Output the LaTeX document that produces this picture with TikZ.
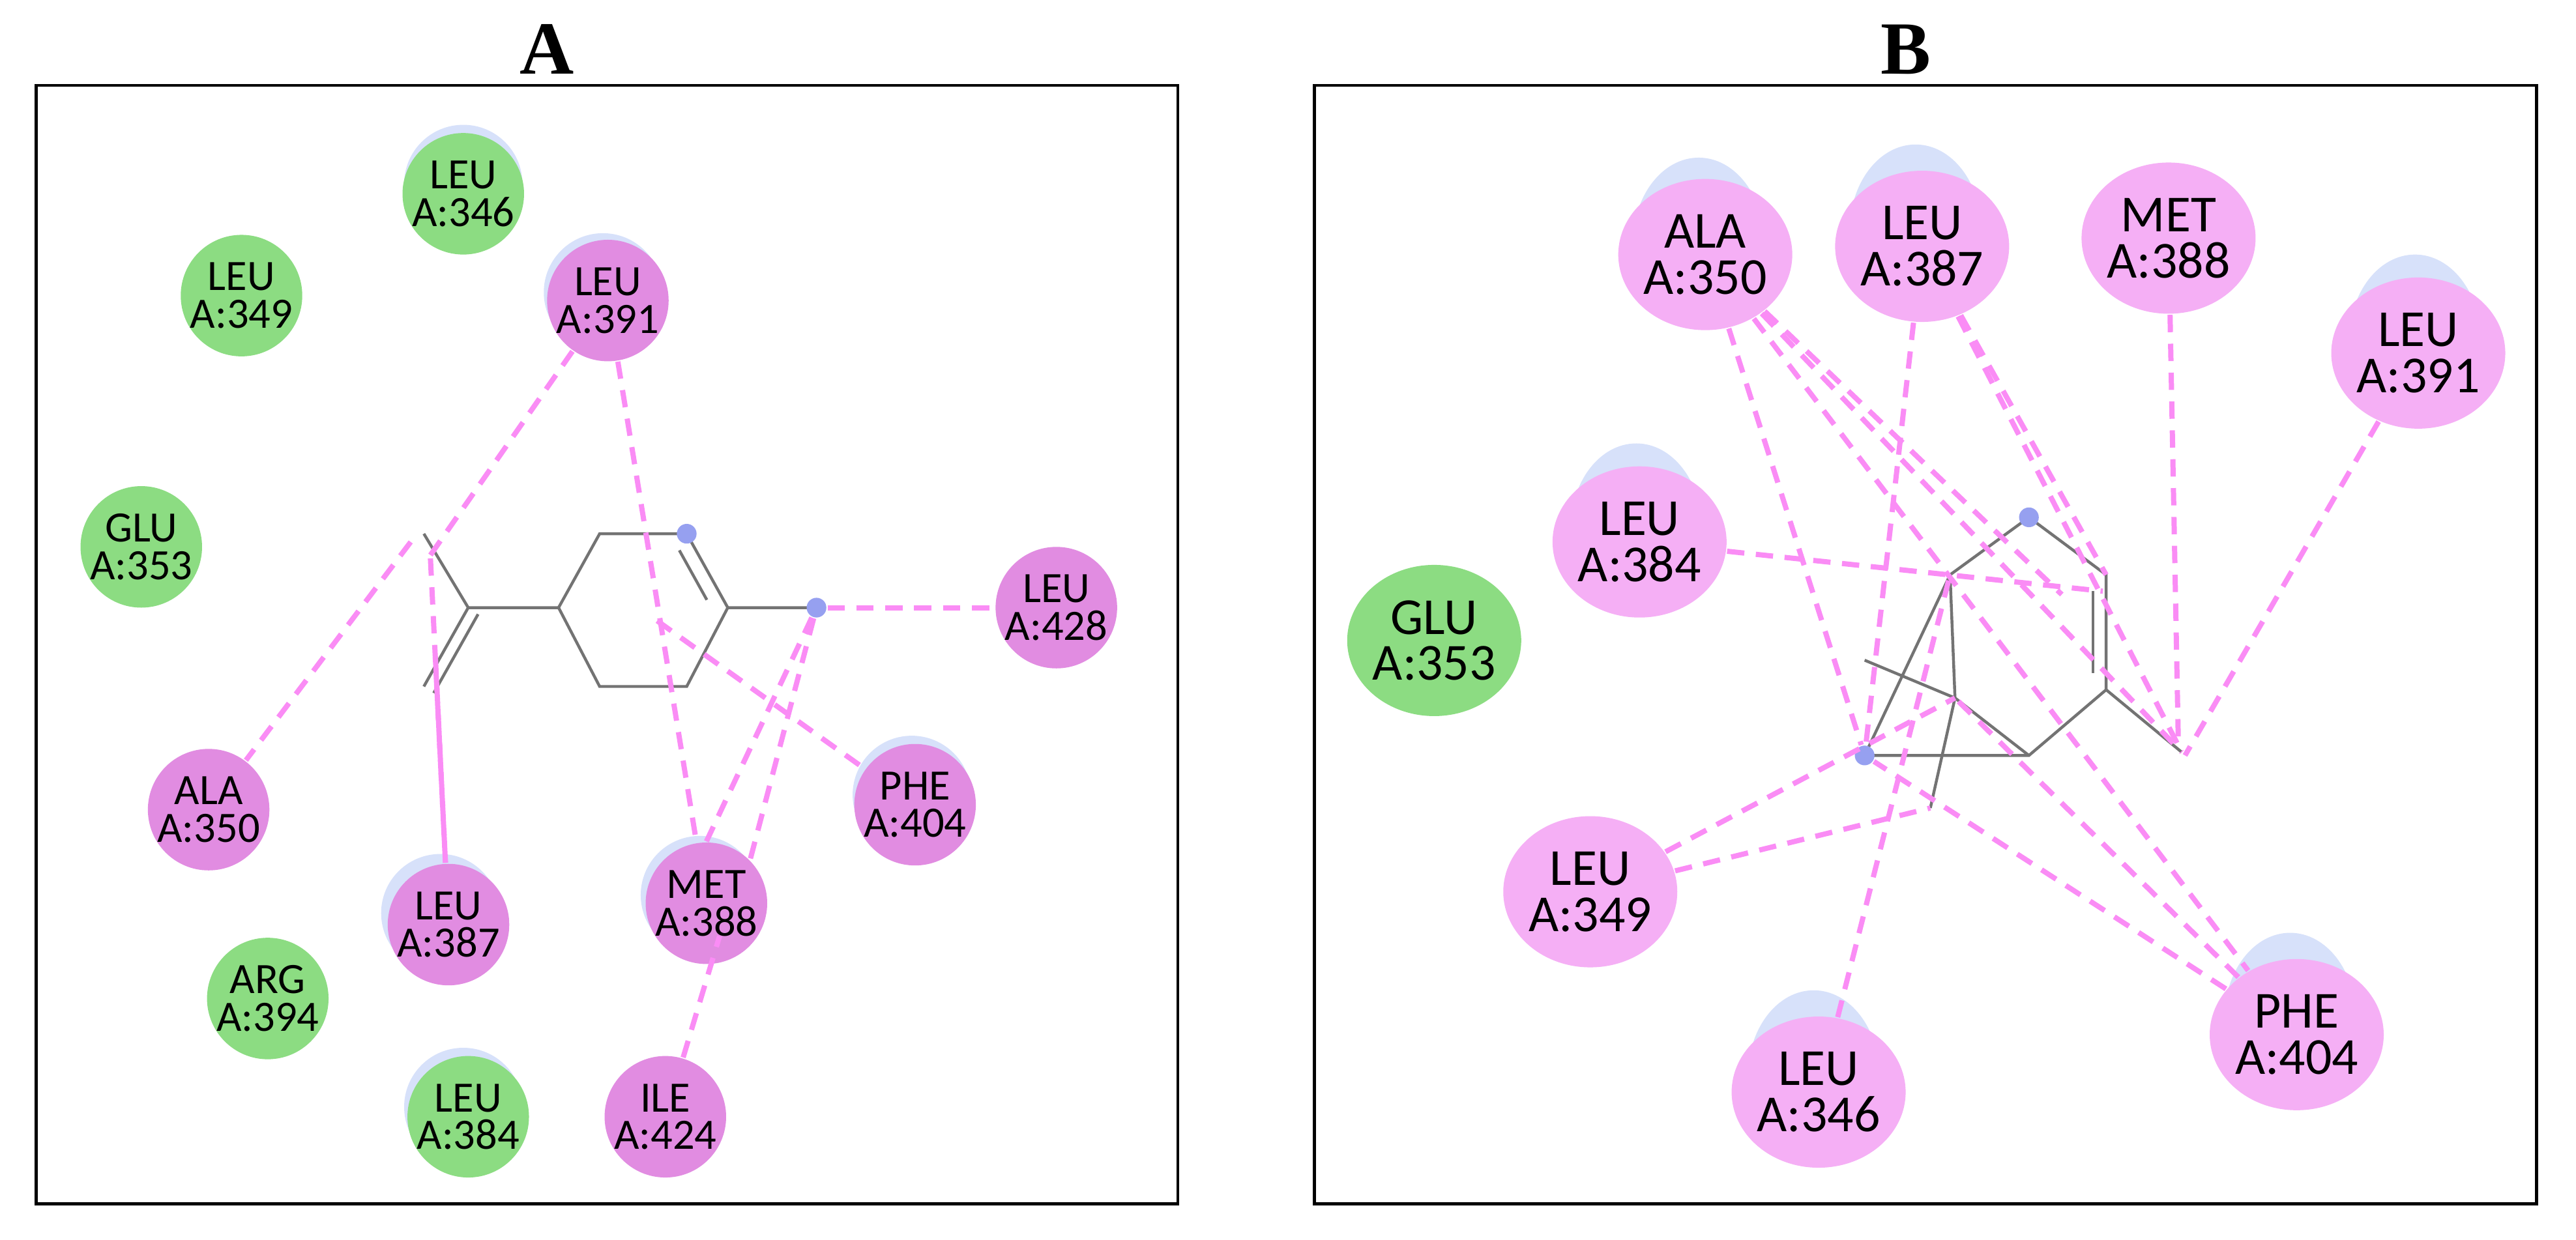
\documentclass[tikz,border=0pt]{standalone}
\usepackage{fontspec}
\setmainfont{Liberation Serif}
\newfontfamily\resfont{Carlito}
\usetikzlibrary{shapes.geometric,calc}
\definecolor{resgreen}{RGB}{140,220,130}
\definecolor{respink}{RGB}{225,140,225}
\definecolor{respinkB}{RGB}{245,175,245}
\definecolor{halo}{RGB}{215,225,250}
\definecolor{dashpink}{RGB}{250,140,245}
\definecolor{atomblue}{RGB}{150,160,240}
\tikzset{
  resA/.style={circle,minimum size=0.66cm,inner sep=0pt,align=center,font=\resfont\fontsize{7.5}{6.5}\selectfont},
  resB/.style={ellipse,minimum width=0.72cm,minimum height=0.92cm,inner sep=0pt,align=center,font=\resfont\fontsize{9}{8}\selectfont},
  hydro/.style={fill=resgreen},
  pinkA/.style={fill=respink},
  pinkB/.style={fill=respinkB},
  bond/.style={draw=gray!90!black,line width=0.5pt},
  contact/.style={draw=dashpink,line width=0.9pt,dash pattern=on 3pt off 2pt},
  atomdot/.style={circle,fill=atomblue,inner sep=0pt,minimum size=0.12cm},
  panelbox/.style={draw=black,line width=0.5pt}
}
\begin{document}
\begin{tikzpicture}[x=0.01cm,y=-0.01cm]
\useasboundingbox (0,0) rectangle (1568,755);
% panels
\draw[panelbox] (22,52) rectangle (717,733);
\draw[panelbox] (800,52) rectangle (1544,733);
\node[font=\bfseries\fontsize{13}{13}\selectfont] (titleA) at (333,30) {A};
\node[font=\bfseries\fontsize{13}{13}\selectfont] (titleB) at (1160,30) {B};
% ---- panel A : ligand
\coordinate (a1) at (365,325); \coordinate (a2) at (418,325);
\coordinate (a3) at (443,370); \coordinate (a4) at (418,418);
\coordinate (a5) at (365,418); \coordinate (a6) at (340,370);
\coordinate (a7) at (497,370); \coordinate (a8) at (285,370);
\coordinate (a9) at (258,325); \coordinate (a10) at (258,418);
\draw[bond] (a1) -- (a2) -- (a3) -- (a4) -- (a5) -- (a6) -- cycle;
\draw[bond] ($(a2)!0.18!(a3)+(-9,2)$) -- ($(a2)!0.85!(a3)+(-9,2)$);
\draw[bond] (a3) -- (a7) (a6) -- (a8) -- (a9) (a8) -- (a10);
\draw[bond] ($(a8)+(6,4)$) -- ($(a10)+(6,4)$);
\node[atomdot] (dA1) at (a2) {};
\node[atomdot] (dA2) at (a7) {};
% ---- panel A : residues
\foreach \p in {(282,112),(367,178),(268,556),(426,545),(555,484),(282,674)}
  \fill[halo] \p circle (36);
\node[resA,hydro] (A346) at (282,118) {LEU\\A:346};
\node[resA,hydro] (A349) at (147,180) {LEU\\A:349};
\node[resA,pinkA] (A391) at (370,183) {LEU\\A:391};
\node[resA,hydro] (A353) at (86,333) {GLU\\A:353};
\node[resA,pinkA] (A428) at (643,370) {LEU\\A:428};
\node[resA,pinkA] (A350) at (127,493) {ALA\\A:350};
\node[resA,pinkA] (A404) at (557,490) {PHE\\A:404};
\node[resA,pinkA] (A387) at (273,563) {LEU\\A:387};
\node[resA,pinkA] (A388) at (430,550) {MET\\A:388};
\node[resA,hydro] (A394) at (163,608) {ARG\\A:394};
\node[resA,hydro] (A384) at (285,680) {LEU\\A:384};
\node[resA,pinkA] (A424) at (405,680) {ILE\\A:424};
% ---- panel A : contacts
\draw[contact] (A391) -- (262,338);
\draw[contact] (250,330) -- (A350);
\draw[contact] (A391) -- (A388);
\draw[contact] (262,340) -- (A387);
\draw[contact] (265,400) -- (A387);
\draw[contact] (400,378) -- (A404);
\draw[contact] (dA2) -- (A388.north);
\draw[contact] (dA2) -- (A388.north east);
\draw[contact] (dA2) -- (A428);
\draw[contact] (A424) -- (438,570);
% ---- panel B : ligand
\coordinate (b1) at (1187,350); \coordinate (b2) at (1235,315);
\coordinate (b3) at (1282,350); \coordinate (b4) at (1282,420);
\coordinate (b5) at (1235,460); \coordinate (b6) at (1135,460);
\coordinate (b7) at (1190,425); \coordinate (b8) at (1135,402);
\coordinate (b9) at (1175,492); \coordinate (b10) at (1328,458);
\draw[bond] (b1) -- (b2) -- (b3) -- (b4) -- (b5) -- (b6) -- (b1);
\draw[bond] ($(b3)+(-8,10)$) -- ($(b4)+(-8,-10)$);
\draw[bond] (b1) -- (b7) -- (b5) (b8) -- (b7) -- (b9) (b4) -- (b10);
\node[atomdot] (dB1) at (b2) {};
\node[atomdot] (dB2) at (b6) {};
% ---- panel B : residues
\foreach \p in {(1034,148),(1166,140),(996,322),(1104,655),(1394,620),(1470,207)}
  \fill[halo] \p ellipse (40 and 52);
\node[resB,pinkB] (B350) at (1038,155) {ALA\\A:350};
\node[resB,pinkB] (B387) at (1170,150) {LEU\\A:387};
\node[resB,pinkB] (B388) at (1320,145) {MET\\A:388};
\node[resB,pinkB] (B391) at (1472,215) {LEU\\A:391};
\node[resB,pinkB] (B384) at (998,330) {LEU\\A:384};
\node[resB,hydro] (B353) at (873,390) {GLU\\A:353};
\node[resB,pinkB] (B349) at (968,543) {LEU\\A:349};
\node[resB,pinkB] (B346) at (1107,665) {LEU\\A:346};
\node[resB,pinkB] (B404) at (1398,630) {PHE\\A:404};
% ---- panel B : contacts
\draw[contact] (B350) -- (1255,362);
\draw[contact] (B350) -- (dB2);
\draw[contact] (B350) -- (b10);
\draw[contact] (B350) -- (B404);
\draw[contact] (B387) -- (dB2);
\draw[contact] (B387) -- (b3);
\draw[contact] (B387) -- (b10);
\draw[contact] (B388) -- (1326,455);
\draw[contact] (B391) -- (1330,460);
\draw[contact] (B384) -- (1280,360);
\draw[contact] (B349) -- (b7);
\draw[contact] (B349) -- (b9);
\draw[contact] (B346) -- (b1);
\draw[contact] (B404) -- (dB2);
\draw[contact] (B404) -- (b7);
\end{tikzpicture}
\end{document}
